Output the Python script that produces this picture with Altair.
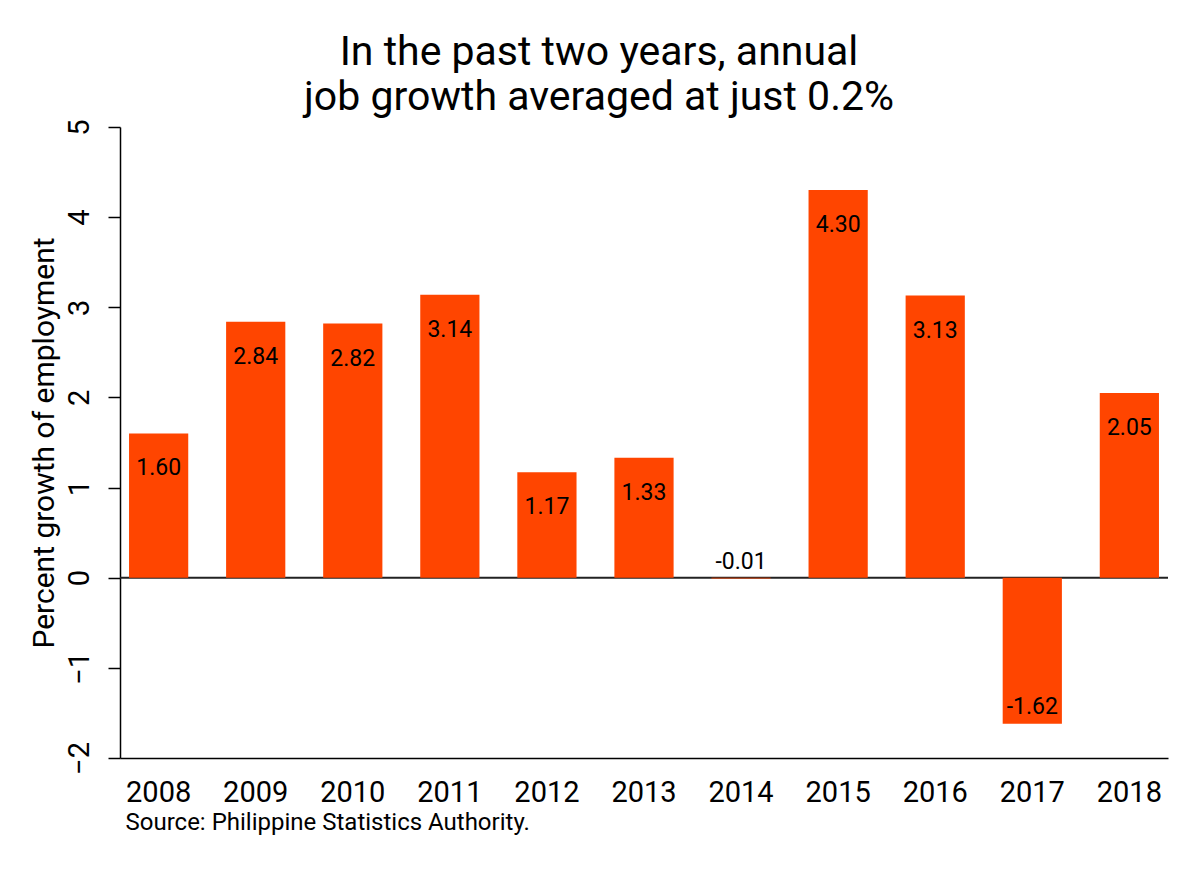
import altair as alt
import pandas as pd

# Annual employment growth, Philippines
years = ["2008", "2009", "2010", "2011", "2012", "2013", "2014", "2015", "2016", "2017", "2018"]
growth = [1.60, 2.84, 2.82, 3.14, 1.17, 1.33, -0.01, 4.30, 3.13, -1.62, 2.05]

df = pd.DataFrame({"year": years, "growth": growth})
df["label"] = [f"{v:.2f}" for v in growth]

FONT = "Roboto"
BAR = "#FF4500"

x_enc = alt.X(
    "year:N",
    sort=years,
    scale=alt.Scale(paddingInner=0.39, paddingOuter=0.093),
    axis=alt.Axis(
        title="Source: Philippine Statistics Authority.",
        titleAnchor="start",
        titleAlign="left",
        titleX=5,
        titleY=52,
        titleFontSize=24,
        titleFontWeight="normal",
        titleFont=FONT,
        titleColor="#000000",
        labelAngle=0,
        labelFont=FONT,
        labelFontSize=29,
        labelColor="#000000",
        labelPadding=20,
        ticks=False,
        domainColor="#000000",
        domainWidth=1.5,
    ),
)

y_scale = alt.Scale(domain=[-2, 5], nice=False, zero=False)

bars = alt.Chart(df).mark_bar(color=BAR).encode(
    x=x_enc,
    y=alt.Y(
        "growth:Q",
        scale=y_scale,
        axis=alt.Axis(
            title="Percent growth of employment",
            titleFont=FONT,
            titleFontSize=30,
            titleFontWeight="normal",
            titleColor="#000000",
            titlePadding=6,
            values=[-2, -1, 0, 1, 2, 3, 4, 5],
            format="d",
            labelAngle=-90,
            labelAlign="center",
            labelBaseline="bottom",
            labelFont=FONT,
            labelFontSize=29,
            labelColor="#000000",
            labelPadding=14,
            tickSize=12,
            tickColor="#000000",
            tickWidth=1.5,
            domainColor="#000000",
            domainWidth=1.5,
            grid=False,
        ),
    ),
    y2=alt.datum(0),
)

# horizontal reference line at zero growth
zero_line = alt.Chart(df).mark_rule(color="#222222", strokeWidth=2).encode(
    y=alt.Y("z:Q", scale=y_scale)
).transform_calculate(z="0").transform_filter("datum.year == '2008'")

pos_labels = alt.Chart(df).transform_filter("datum.growth > 0").mark_text(
    font=FONT, fontSize=23, color="#000000", baseline="top", dy=24
).encode(x=alt.X("year:N", sort=years), y=alt.Y("growth:Q", scale=y_scale), text="label:N")

neg_labels = alt.Chart(df).transform_filter("datum.growth <= 0").mark_text(
    font=FONT, fontSize=23, color="#000000", baseline="alphabetic", dy=-10
).encode(x=alt.X("year:N", sort=years), y=alt.Y("growth:Q", scale=y_scale), text="label:N")

chart = (
    alt.layer(zero_line, bars, pos_labels, neg_labels)
    .properties(
        width=1048,
        height=631,
        autosize=alt.AutoSizeParams(type="none"),
        padding={"left": 120, "top": 127, "right": 32, "bottom": 115},
        title=alt.TitleParams(
            text=["In the past two years, annual", "job growth averaged at just 0.2%"],
            font=FONT,
            fontSize=41,
            fontWeight="normal",
            color="#000000",
            anchor="middle",
            frame="bounds",
            lineHeight=45,
            offset=0,
        ),
        background="#ffffff",
    )
    .configure_view(stroke=None)
)

chart.save("out.html", embed_options={"renderer": "svg", "actions": False})
